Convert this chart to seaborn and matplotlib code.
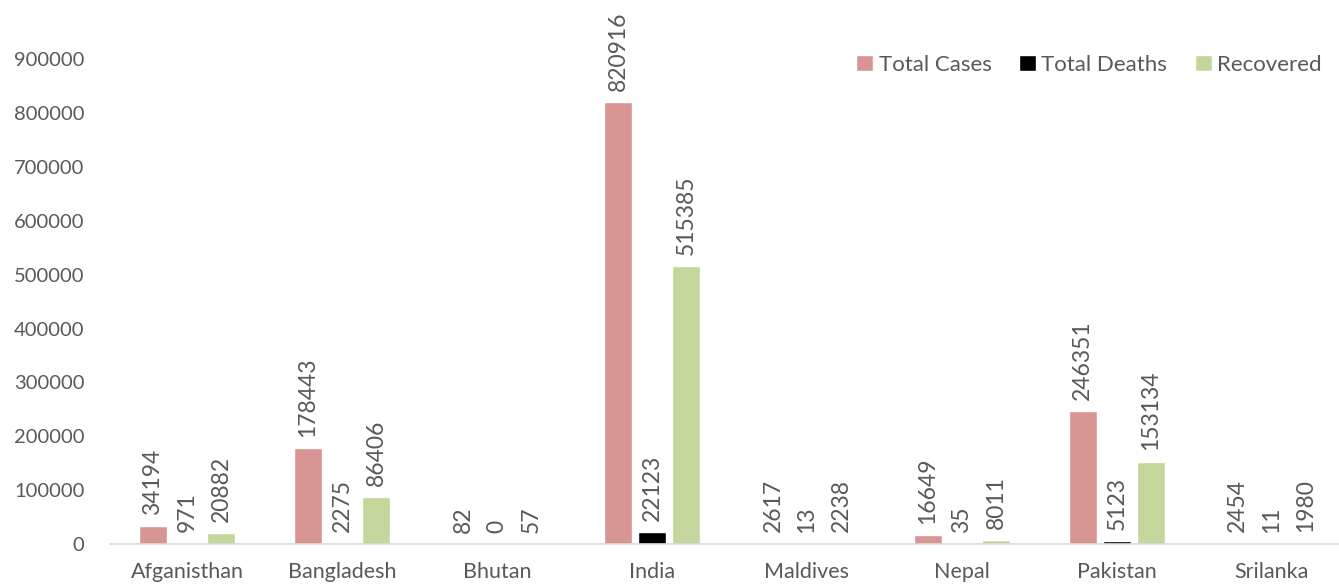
import matplotlib
matplotlib.use("Agg")
import matplotlib.pyplot as plt
import seaborn as sns
import pandas as pd

countries = ["Afganisthan", "Bangladesh", "Bhutan", "India", "Maldives", "Nepal", "Pakistan", "Srilanka"]
total_cases = [34194, 178443, 82, 820916, 2617, 16649, 246351, 2454]
total_deaths = [971, 2275, 0, 22123, 13, 35, 5123, 11]
recovered = [20882, 86406, 57, 515385, 2238, 8011, 153134, 1980]
series_names = ["Total Cases", "Total Deaths", "Recovered"]
colors = ["#D99594", "#000000", "#C3D69B"]

rows = []
for name, vals in zip(series_names, [total_cases, total_deaths, recovered]):
    for c, v in zip(countries, vals):
        rows.append({"Country": c, "Series": name, "Value": v})
df = pd.DataFrame(rows)

sns.set_theme(style="white")
plt.rcParams["font.family"] = ["Lato", "DejaVu Sans"]
text_color = "#595959"

fig = plt.figure(figsize=(13.39, 5.85), dpi=100)
ax = fig.add_axes([0.0818, 0.07, 0.926, 0.921])
sns.barplot(data=df, x="Country", y="Value", hue="Series", hue_order=series_names,
            palette=colors, width=0.66, gap=0.2, ax=ax, saturation=1, errorbar=None)

for cont in ax.containers:
    ax.bar_label(cont, labels=[f"{int(v)}" for v in cont.datavalues], rotation=90,
                 padding=8, fontsize=16.5, color=text_color)

ax.set_ylim(0, 1000000)
ax.set_yticks(range(0, 1000000, 100000))
ax.set_yticklabels([str(v) for v in range(0, 1000000, 100000)])
ax.set_xlim(-0.5, len(countries) - 0.5)
ax.set_xlabel("")
ax.set_ylabel("")
ax.tick_params(axis="both", length=0, colors=text_color)
ax.tick_params(axis="x", pad=13, labelsize=15.5)
ax.tick_params(axis="y", pad=18, labelsize=14.5)
for s in ["top", "right", "left"]:
    ax.spines[s].set_visible(False)
ax.spines["bottom"].set_color("#D9D9D9")
ax.spines["bottom"].set_linewidth(1.2)

leg = ax.legend(loc="upper right", bbox_to_anchor=(0.985, 0.925), ncol=3, frameon=False,
                fontsize=16, handlelength=0.75, handleheight=0.75, handletextpad=0.25,
                columnspacing=1.25, borderaxespad=0)
for t in leg.get_texts():
    t.set_color(text_color)

fig.savefig("out.png", dpi=100)
